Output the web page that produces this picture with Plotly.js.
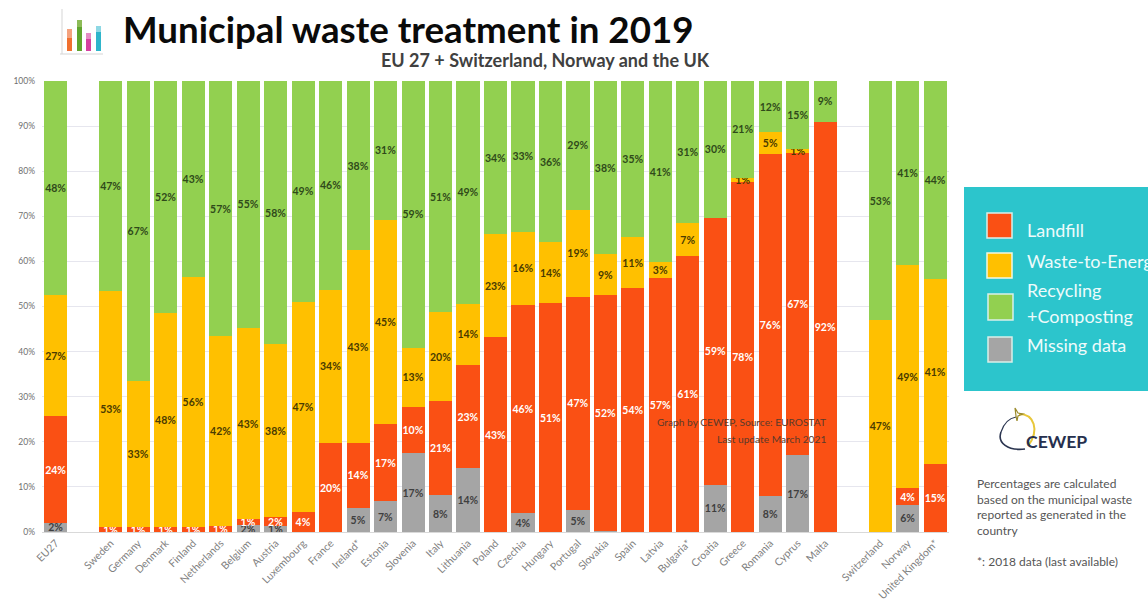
<!DOCTYPE html>
<html><head><meta charset="utf-8">
<script src="https://cdn.plot.ly/plotly-3.0.1.min.js"></script>
<style>html,body{margin:0;padding:0;background:#fff;overflow:hidden}</style>
</head><body><div id="chart" style="width:1148px;height:601px"></div>
<script>
const categories = ["EU27","","Sweden","Germany","Denmark","Finland","Netherlands","Belgium","Austria","Luxembourg","France","Ireland*","Estonia","Slovenia","Italy","Lithuania","Poland","Czechia","Hungary","Portugal","Slovakia","Spain","Latvia","Bulgaria*","Croatia","Greece","Romania","Cyprus","Malta","","Switzerland","Norway","United Kingdom*"];
const missing  = [2,0,0,0,0,0,0,1.5,1.3,0,0,5.4,6.8,17.5,8.2,14.2,0,4.2,0,4.8,0.2,0,0,0,10.5,0,8,17,0,0,0,6,0];
const landfill = [23.7,0,1,1,1,1,1.4,1.3,2,4.5,19.7,14.3,17.2,10.3,20.9,22.8,43.2,46.2,50.7,47.4,52.3,54,56.4,61.2,59.2,77.5,75.8,67,91,0,0,3.7,15];
const wte      = [26.8,0,52.5,32.5,47.5,55.5,42,42.5,38.3,46.5,34,42.8,45.2,13,19.6,13.6,22.8,16.2,13.6,19.2,9.1,11.4,3.4,7.3,0,1,4.8,1,0,0,47,49.5,41];
const recycling= [47.5,0,46.5,66.5,51.5,43.5,56.6,54.7,58.4,49,46.3,37.5,30.8,59.2,51.3,49.4,34,33.4,35.7,28.6,38.4,34.6,40.2,31.5,30.3,21.5,11.4,15,9,0,53,40.8,44];
const missingLabels  = ["2%","","","","","","","2%","1%","","","5%","7%","17%","8%","14%","","4%","","5%","","","","","11%","","8%","17%","","","","6%",""];
const landfillLabels = ["24%","","1%","1%","1%","1%","1%","1%","2%","4%","20%","14%","17%","10%","21%","23%","43%","46%","51%","47%","52%","54%","57%","61%","59%","78%","76%","67%","92%","","","4%","15%"];
const wteLabels      = ["27%","","53%","33%","48%","56%","42%","43%","38%","47%","34%","43%","45%","13%","20%","14%","23%","16%","14%","19%","9%","11%","3%","7%","","1%","5%","1%","","","47%","49%","41%"];
const recyclingLabels= ["48%","","47%","67%","52%","43%","57%","55%","58%","49%","46%","38%","31%","59%","51%","49%","34%","33%","36%","29%","38%","35%","41%","31%","30%","21%","12%","15%","9%","","53%","41%","44%"];
const tickPercents = [0,10,20,30,40,50,60,70,80,90,100];

const L=42, R=949, T=81, B=532;
const px = x => (x-L)/(R-L), py = y => (B-y)/(B-T);
const FONT = "Lato, Carlito, sans-serif";
const idx = categories.map((_,i)=>i);
function bar(name,y,text,color,tc){
  return {type:"bar",name,x:idx,y,text,marker:{color},textposition:"inside",insidetextanchor:"middle",
    textangle:0,constraintext:"none",textfont:{family:FONT,size:10.5,color:tc,weight:700},hoverinfo:"name+y",cliponaxis:false};
}
const data=[
  bar("Missing data",missing,missingLabels,"#A5A5A5","#3f3f3f"),
  bar("Landfill",landfill,landfillLabels,"#FA5014","#ffffff"),
  bar("Waste-to-Energy",wte,wteLabels,"#FFC000","#4a3b00"),
  bar("Recycling +Composting",recycling,recyclingLabels,"#92D050","#2f4a1a")
];
function rect(x0,y0,x1,y1,fill,line){
  return {type:"rect",xref:"paper",yref:"paper",x0:px(x0),x1:px(x1),y0:py(y0),y1:py(y1),fillcolor:fill,
    line:line?{color:line,width:1.5}:{width:0},layer:"above"};
}
function pathShape(pts,color,w){
  return {type:"path",xref:"paper",yref:"paper",path:pts.join(""),line:{color,width:w},fillcolor:"rgba(0,0,0,0)",layer:"above"};
}
function P(cmd,...xy){let s=cmd;for(let i=0;i<xy.length;i+=2){s+=" "+px(xy[i])+","+py(xy[i+1]);}return s+" ";}
function note(x,y,text,size,color,anchor,weight){
  const dx = anchor==="right" ? 2 : -2;
  return {xref:"paper",yref:"paper",x:px(x+dx),y:py(y),text,showarrow:false,xanchor:anchor||"left",yanchor:"middle",align:anchor||"left",
    font:{family:FONT,size,color,weight:weight||400}};
}
const shapes=[
  rect(964,187,1148,391,"#2CC5CC"),
  rect(987,213,1012,238,"#FA5014","#d9efe9"),
  rect(987,253,1012,278,"#FFC000","#f1f7e0"),
  rect(988,294,1013,320,"#92D050","#d9efe9"),
  rect(988,337,1012,362,"#A5A5A5","#d9efe9"),
  // small chart icon
  rect(61.5,9,62.5,54,"#d5d5d5"),
  rect(60,53.5,103,54.5,"#d5d5d5"),
  rect(67,29,72,38,"#F4A27E"),rect(67,38,72,51,"#F0702F"),
  rect(77,20,82,27,"#8DBB57"),rect(77,27,82,51,"#5FA52E"),
  rect(86,33,91,39,"#E58CC4"),rect(86,39,91,51,"#D640A0"),
  rect(96,26,101,32,"#8ED8E4"),rect(96,32,101,51,"#2FB5CB"),
  // CEWEP logo
  pathShape([P("M",1001,432)+P("C",997,443,1008,451,1025,449)],"#2b3550",1.6),
  pathShape([P("M",1001,432)+P("C",1004,423,1010,418,1016,417)],"#2b3550",1.2),
  pathShape([P("M",1019,414)+P("C",1034,414,1040,430,1028,446)],"#E8C73A",2),
  pathShape([P("M",1015,408)+P("L",1018,413)+P("L",1023,414)+P("L",1018,416)+P("L",1017,421)+P("L",1016,416)+P("Z")],"#9b8a2a",1.2)
];
const annotations=[
  note(381,60,"EU 27 + Switzerland, Norway and the UK",18,"#404040","left",700),
  note(826,422,"Graph by CEWEP, Source: EUROSTAT",10.2,"#5b3a2a","right"),
  note(826,439,"Last update March 2021",10.2,"#5b3a2a","right"),
  note(1027,230,"Landfill",18,"#eefbfb"),
  note(1027,261,"Waste-to-Energy",18,"#eefbfb"),
  note(1027,290,"Recycling",18,"#eefbfb"),
  note(1027,316,"+Composting",18,"#eefbfb"),
  note(1027,345,"Missing data",18,"#eefbfb"),
  note(1026,441,"CEWEP",17.6,"#26304e","left",700),
  note(977,483,"Percentages are calculated",12,"#555555"),
  note(977,499,"based on the municipal waste",12,"#555555"),
  note(977,514,"reported as generated in the",12,"#555555"),
  note(977,530,"country",12,"#555555"),
  note(977,561,"*: 2018 data (last available)",12,"#555555")
];
const layout={
  width:1148,height:601,autosize:false,barmode:"stack",bargap:0.16,showlegend:false,
  paper_bgcolor:"#fff",plot_bgcolor:"#fff",font:{family:FONT},
  margin:{l:L,r:1148-R,t:T,b:601-B,pad:0},
  title:{text:"Municipal waste treatment in 2019",font:{family:FONT,size:36.7,color:"#0a0a0a",weight:700},
    x:123/1148,xanchor:"left",xref:"container",y:1-30/601,yanchor:"middle"},
  xaxis:{range:[-0.5,32.5],tickmode:"array",tickvals:idx,ticktext:categories,tickangle:-45,showgrid:false,
    tickfont:{family:FONT,size:10.5,color:"#7f7f7f"},ticks:"",showline:true,linecolor:"#d9d9d9",zeroline:false,fixedrange:true},
  yaxis:{range:[0,100],tickmode:"array",tickvals:tickPercents,ticktext:tickPercents.map(v=>v+"%"),ticklabelstandoff:6,
    tickfont:{family:FONT,size:8.5,color:"#6f6f6f"},gridcolor:"#e6e6ee",gridwidth:1,ticks:"",zeroline:false,showline:false,fixedrange:true},
  shapes,annotations
};
Plotly.newPlot("chart",data,layout,{displayModeBar:false,staticPlot:true});
</script></body></html>
